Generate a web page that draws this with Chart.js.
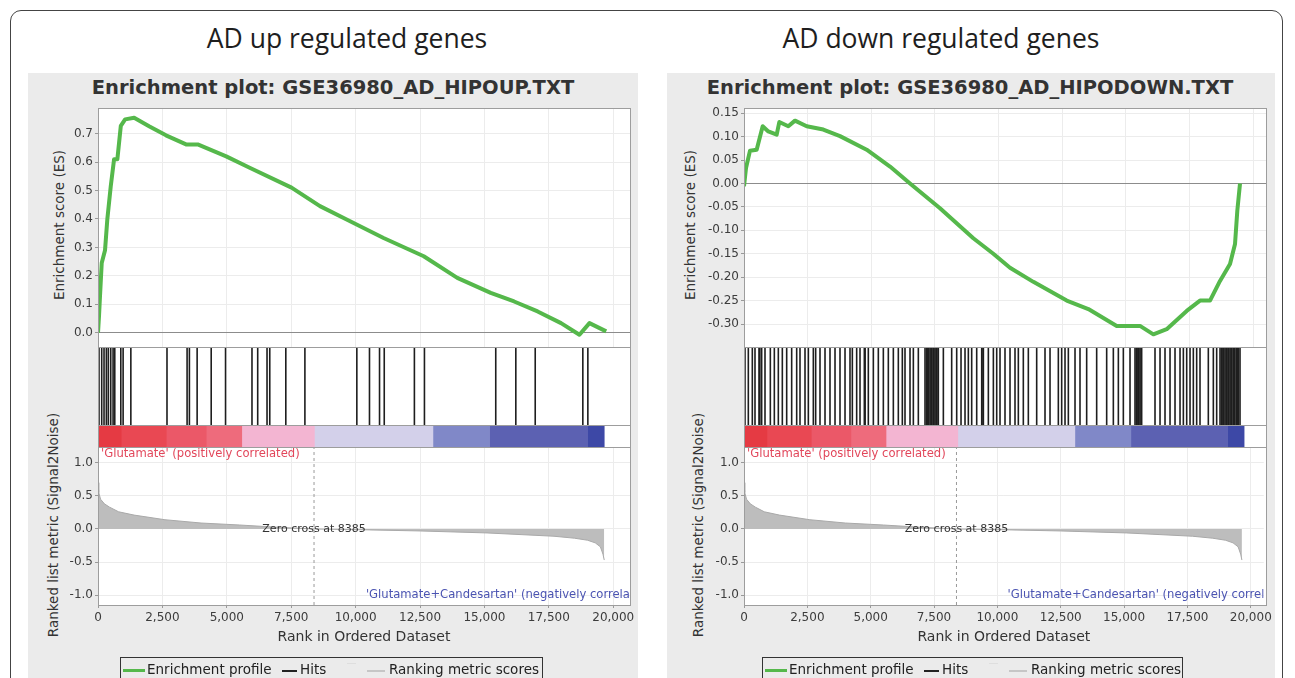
<!DOCTYPE html>
<html>
<head>
<meta charset="utf-8">
<script src="https://cdn.jsdelivr.net/npm/chart.js@4.4.1/dist/chart.umd.min.js"></script>
<style>
  body { margin:0; width:1295px; height:678px; overflow:hidden; background:#fff; position:relative; font-family:"DejaVu Sans", sans-serif; }
  div, canvas { position:absolute; }
  .frame { left:10px; top:10px; width:1273px; height:720px; border:1.5px solid #444; border-radius:11px; box-sizing:border-box; }
  .heading { top:21px; font-family:"Open Sans", sans-serif; font-size:26.5px; line-height:34px; color:#1e1e1e; transform:translateX(-50%); white-space:nowrap; }
  .panel { top:73px; height:640px; background:#ebebeb; }
  .ptitle { top:76px; font-weight:bold; font-size:19.5px; line-height:24px; color:#333; transform:translateX(-50%); white-space:nowrap; }
  .ytitle { font-size:13.5px; line-height:16px; color:#333; white-space:nowrap; transform:translate(-50%, -50%) rotate(-90deg); }
  .plotbg { background:#fff; }
  .line { background:#9d9d9d; }
  .box { border:1px solid #9d9d9d; box-sizing:border-box; }
  .legend { top:657px; height:40px; border:1px solid #333; box-sizing:border-box; }
  .lg { top:0; font-size:13.5px; color:#222; white-space:nowrap; }
</style>
</head>
<body>
<div class="frame"></div>
<script>
// ---- data ----
const zeroCross = 8385;
const rankTicks = [0, 2500, 5000, 7500, 10000, 12500, 15000, 17500, 20000];

// running enrichment score, AD up regulated genes
const upRank = [0, 40, 78, 144, 273, 363, 495, 624, 752, 885, 1053, 1403, 2000, 2638, 3418, 3871, 4977, 5887, 7512, 8616, 9786, 11084, 12644, 13946, 15244, 16152, 17064, 17973, 18687, 19077, 19727];
const upES = [0, 0.06, 0.13, 0.245, 0.29, 0.40, 0.515, 0.61, 0.61, 0.727, 0.75, 0.756, 0.725, 0.694, 0.662, 0.662, 0.62, 0.58, 0.51, 0.445, 0.392, 0.333, 0.269, 0.193, 0.14, 0.11, 0.075, 0.034, -0.007, 0.034, 0.005];
const upHits = [39, 144, 234, 324, 402, 495, 585, 651, 885, 975, 1275, 2678, 3458, 3548, 3848, 4394, 4951, 5977, 6199, 6561, 6667, 7290, 8031, 10047, 10538, 10928, 11111, 12281, 12671, 15439, 16218, 16971, 18819, 19014];

// running enrichment score, AD down regulated genes
const downRank = [0, 79, 236, 498, 734, 955, 1284, 1387, 1741, 2004, 2463, 3116, 3772, 4820, 5737, 6523, 7701, 9010, 9796, 10452, 11368, 12680, 13530, 14644, 15560, 16084, 16608, 17394, 17917, 18310, 18703, 19096, 19293, 19383, 19489];
const downES = [-0.006, 0.033, 0.07, 0.072, 0.122, 0.111, 0.104, 0.131, 0.122, 0.134, 0.122, 0.115, 0.101, 0.072, 0.036, 0.0, -0.053, -0.117, -0.15, -0.18, -0.21, -0.25, -0.268, -0.304, -0.304, -0.322, -0.311, -0.272, -0.25, -0.25, -0.208, -0.172, -0.129, -0.058, 0.0];
const downHits = [39, 170, 327, 432, 589, 620, 694, 825, 1035, 1192, 1349, 1506, 1677, 1873, 2070, 2200, 2397, 2528, 2724, 2816, 2986, 3183, 3379, 3576, 3772, 3969, 4165, 4257, 4427, 4558, 4728, 4760, 4885, 5082, 5278, 5475, 5671, 5868, 6064, 6221, 6326, 6523, 6654, 6850, 7112, 7180, 7243, 7310, 7374, 7440, 7505, 7570, 7636, 7833, 8160, 8357, 8527, 8684, 8815, 8946, 9143, 9340, 9405, 9601, 9798, 9929, 10059, 10255, 10452, 10648, 10779, 10975, 11172, 11500, 11827, 12024, 12351, 12482, 12613, 12744, 13006, 13202, 13464, 13857, 14250, 14512, 14709, 14905, 15167, 15363, 15430, 15494, 15560, 15625, 16149, 16346, 16542, 16739, 16935, 17132, 17263, 17394, 17525, 17655, 17786, 17917, 18244, 18441, 18572, 18703, 18770, 18834, 18900, 18965, 19030, 19096, 19160, 19227, 19290, 19358, 19420, 19489];

// ranked list metric (Signal2Noise)
const metricRank = [0, 30, 100, 250, 450, 800, 1400, 2600, 4000, 5500, 7000, 8385, 10000, 12500, 15100, 17700, 18500, 19000, 19300, 19500, 19600, 19650];
const metricValue = [0.70, 0.55, 0.45, 0.38, 0.33, 0.26, 0.21, 0.14, 0.09, 0.06, 0.025, 0, -0.01, -0.03, -0.06, -0.11, -0.14, -0.17, -0.21, -0.27, -0.38, -0.47];

// colour strip along the ranked list
const stripStart = [0, 900, 2650, 4200, 5580, 8400, 13000, 15200, 19000];
const stripEnd = [900, 2650, 4200, 5580, 8400, 13000, 15200, 19000, 19650];
const stripColor = ['#e53a43', '#e94853', '#eb5868', '#ee6b7c', '#f3b5d2', '#d3d0ea', '#8088c8', '#5c61b2', '#3d48a6'];

// ---- layout ----
const TOP = 108, HITS = 347, BAR = 425, BAR_END = 447, BOTTOM = 605, PAD = 8, XAXIS_H = 45;
const GREEN = '#55b84b';
const GRID = '#ececec';

Chart.defaults.font.family = '"DejaVu Sans", sans-serif';
Chart.defaults.animation = false;
Chart.defaults.responsive = false;
Chart.defaults.events = [];
Chart.defaults.plugins.legend.display = false;
Chart.defaults.plugins.tooltip.enabled = false;

const panels = [
  { panelLeft: 28, panelRight: 638, plotLeft: 98, plotRight: 630, xMax: 20650,
    heading: 'AD up regulated genes', headingX: 347,
    title: 'Enrichment plot: GSE36980_AD_HIPOUP.TXT', titleX: 333,
    rank: upRank, es: upES, hits: upHits,
    esMin: -0.05, esMax: 0.79, esStep: 0.1, esDigits: 1,
    esTitleX: 59, rankTitleX: 53, legendLeft: 120, legendRight: 543 },
  { panelLeft: 667, panelRight: 1275, plotLeft: 744, plotRight: 1266, xMax: 20510,
    heading: 'AD down regulated genes', headingX: 941,
    title: 'Enrichment plot: GSE36980_AD_HIPODOWN.TXT', titleX: 970,
    rank: downRank, es: downES, hits: downHits,
    esMin: -0.349, esMax: 0.161, esStep: 0.05, esDigits: 2,
    esTitleX: 690, rankTitleX: 698, legendLeft: 762, legendRight: 1183 }
];

function addDiv(cls, style, text) {
  const d = document.createElement('div');
  d.className = cls;
  for (const k in style) d.style[k] = typeof style[k] === 'number' ? style[k] + 'px' : style[k];
  if (text) d.textContent = text;
  document.body.appendChild(d);
  return d;
}

function addCanvas(left, top, w, h) {
  const c = document.createElement('canvas');
  c.width = w; c.height = h;
  c.style.left = left + 'px'; c.style.top = top + 'px';
  c.style.width = w + 'px'; c.style.height = h + 'px';
  document.body.appendChild(c);
  return c;
}

// chart.js snaps a 2500 step to the min/max range, so set the rank ticks directly
const setRankTicks = s => { s.ticks = rankTicks.map(v => ({ value: v })); };

function buildPanel(p) {
  const W = p.panelRight - p.panelLeft;
  const padR = p.panelRight - p.plotRight;
  const padL = p.plotLeft - p.panelLeft;

  addDiv('heading', { left: p.headingX }, p.heading);
  addDiv('panel', { left: p.panelLeft, width: W });
  addDiv('ptitle', { left: p.titleX }, p.title);
  addDiv('ytitle', { left: p.esTitleX, top: 225 }, 'Enrichment score (ES)');
  addDiv('ytitle', { left: p.rankTitleX, top: 525 }, 'Ranked list metric (Signal2Noise)');
  addDiv('plotbg', { left: p.plotLeft, top: TOP, width: p.plotRight - p.plotLeft, height: BOTTOM - TOP });

  // enrichment score
  new Chart(addCanvas(p.panelLeft, TOP - PAD, W, HITS - TOP + 2 * PAD), {
    type: 'line',
    data: { datasets: [{
      data: p.rank.map((r, i) => ({ x: r, y: p.es[i] })),
      borderColor: GREEN, borderWidth: 4, pointRadius: 0, tension: 0, borderJoinStyle: 'round'
    }] },
    options: {
      layout: { padding: { left: 0, right: padR, top: PAD, bottom: PAD } },
      scales: {
        x: { type: 'linear', min: 0, max: p.xMax,
             ticks: { display: false },
             grid: { color: GRID, drawTicks: false }, border: { display: false },
             afterBuildTicks: setRankTicks,
             afterFit: s => { s.height = 0; } },
        y: { min: p.esMin, max: p.esMax,
             ticks: { stepSize: p.esStep, includeBounds: false, color: '#3c3c3c', font: { size: 12 }, padding: 2,
                      callback: v => v.toFixed(p.esDigits) },
             grid: { color: c => Math.abs(c.tick.value) < 1e-9 ? '#8c8c8c' : GRID, tickLength: 3, tickColor: '#999' },
             border: { display: false },
             afterFit: s => { s.width = padL; s.paddingTop = 0; s.paddingBottom = 0; } }
      }
    }
  });

  // hits
  new Chart(addCanvas(p.panelLeft, HITS, W, BAR - HITS), {
    type: 'line',
    data: { datasets: [{
      data: p.hits.flatMap(r => [{ x: r, y: 0 }, { x: r, y: 1 }, { x: r, y: null }]),
      borderColor: '#1e1e1e', borderWidth: 1.6, pointRadius: 0, spanGaps: false
    }] },
    options: {
      layout: { padding: { left: padL, right: padR, top: 0, bottom: 0 } },
      scales: {
        x: { type: 'linear', display: false, min: 0, max: p.xMax },
        y: { display: false, min: 0, max: 1 }
      }
    }
  });

  // colour strip
  new Chart(addCanvas(p.panelLeft, BAR, W, BAR_END - BAR), {
    type: 'bar',
    data: {
      labels: ['strip'],
      datasets: stripStart.map((s, i) => ({ data: [[s, stripEnd[i]]], backgroundColor: stripColor[i] }))
    },
    options: {
      indexAxis: 'y',
      datasets: { bar: { grouped: false, barPercentage: 1, categoryPercentage: 1, borderWidth: 0 } },
      layout: { padding: { left: padL, right: padR, top: 0, bottom: 0 } },
      scales: {
        x: { type: 'linear', display: false, min: 0, max: p.xMax },
        y: { display: false }
      }
    }
  });

  // ranked list metric
  new Chart(addCanvas(p.panelLeft, BAR_END - PAD, W, BOTTOM - BAR_END + PAD + XAXIS_H), {
    type: 'line',
    data: { datasets: [
      { data: metricRank.map((r, i) => ({ x: r, y: metricValue[i] })),
        borderColor: '#a9a9a9', borderWidth: 1, backgroundColor: '#bdbdbd', fill: 'origin', pointRadius: 0, tension: 0 },
      { data: [{ x: zeroCross, y: -1.15 }, { x: zeroCross, y: 1.24 }],
        borderColor: '#9a9a9a', borderWidth: 1, borderDash: [3, 3], pointRadius: 0 }
    ] },
    options: {
      layout: { padding: { left: 0, right: padR, top: PAD, bottom: 0 } },
      scales: {
        x: { type: 'linear', min: 0, max: p.xMax,
             ticks: { autoSkip: false, maxRotation: 0, color: '#3c3c3c',
                      font: { size: 12 }, padding: 3, callback: v => v.toLocaleString('en-US') },
             grid: { color: GRID, tickLength: 3, tickColor: '#999' }, border: { display: false },
             title: { display: true, text: 'Rank in Ordered Dataset', color: '#333', font: { size: 14 },
                      padding: { top: 0, bottom: 4 } },
             afterBuildTicks: setRankTicks,
             afterFit: s => { s.height = XAXIS_H; } },
        y: { min: -1.15, max: 1.24,
             ticks: { stepSize: 0.5, includeBounds: false, color: '#3c3c3c', font: { size: 12 }, padding: 2,
                      callback: v => v.toFixed(1) },
             grid: { color: GRID, tickLength: 3, tickColor: '#999' }, border: { display: false },
             afterFit: s => { s.width = padL; s.paddingTop = 0; s.paddingBottom = 0; } }
      }
    },
    plugins: [{
      id: 'rankLabels',
      afterDatasetsDraw(chart) {
        const { ctx, chartArea: a, scales: { x, y } } = chart;
        ctx.save();
        ctx.beginPath();
        ctx.rect(a.left, a.top, a.right - a.left, a.bottom - a.top);
        ctx.clip();
        ctx.textBaseline = 'middle';
        ctx.font = '11px "DejaVu Sans"';
        ctx.fillStyle = '#333';
        ctx.textAlign = 'center';
        ctx.fillText('Zero cross at ' + zeroCross, x.getPixelForValue(zeroCross), y.getPixelForValue(0));
        ctx.textAlign = 'left';
        ctx.font = '11.6px "DejaVu Sans"';
        ctx.fillStyle = '#e2475b';
        ctx.fillText("'Glutamate' (positively correlated)", a.left + 3, a.top + 7);
        ctx.fillStyle = '#4b54b2';
        ctx.fillText("'Glutamate+Candesartan' (negatively correlated)", x.getPixelForValue(10400), a.bottom - 10);
        ctx.restore();
      }
    }]
  });

  // frame and separators
  addDiv('box', { left: p.plotLeft, top: TOP, width: p.plotRight - p.plotLeft + 1, height: BOTTOM - TOP + 1 });
  [HITS, BAR, BAR_END].forEach(yy => addDiv('line', { left: p.plotLeft, top: yy, width: p.plotRight - p.plotLeft, height: 1 }));

  // legend
  addDiv('legend', { left: p.legendLeft, width: p.legendRight - p.legendLeft });
  const o = p.legendLeft;
  addDiv('', { left: o + 3, top: 669, width: 22, height: 3, background: GREEN });
  addDiv('lg', { left: o + 27, top: 661 }, 'Enrichment profile');
  addDiv('', { left: o + 162, top: 670, width: 15, height: 1.5, background: '#222' });
  addDiv('lg', { left: o + 180, top: 661 }, 'Hits');
  addDiv('', { left: o + 227, top: 663, width: 9, height: 1, background: '#dedede' });
  addDiv('', { left: o + 247, top: 670, width: 18, height: 1.5, background: '#c6c6c6' });
  addDiv('lg', { left: o + 269, top: 661 }, 'Ranking metric scores');
}

panels.forEach(buildPanel);
</script>
</body>
</html>
